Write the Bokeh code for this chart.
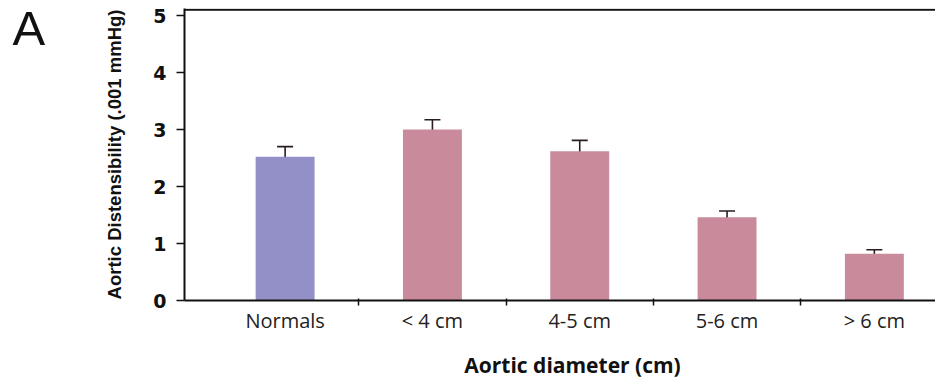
from bokeh.plotting import figure
from bokeh.layouts import row, column
from bokeh.models import (Range1d, FixedTicker, Span, Whisker, TeeHead,
                          ColumnDataSource)
from bokeh.core.properties import value
from bokeh.embed import file_html
from bokeh.resources import INLINE

# ---- data ----
categories = ["Normals", "< 4 cm", "4-5 cm", "5-6 cm", "> 6 cm"]
values = [2.52, 3.0, 2.62, 1.46, 0.82]
errors = [0.18, 0.17, 0.19, 0.11, 0.07]
bar_colors = ["#9290C6", "#C98A9C", "#C98A9C", "#C98A9C", "#C98A9C"]
y_ticks = [0, 1, 2, 3, 4, 5]
y_label = "Aortic Distensibility (.001 mmHg)"
x_label = "Aortic diameter (cm)"
panel_letter = "A"

W, H = 935, 382
LETTER_W = 60
TITLE_H = 40
MAIN_H = H - TITLE_H

xs = list(range(len(categories)))
src = ColumnDataSource(dict(
    x=xs,
    top=values,
    color=bar_colors,
    upper=[v + e for v, e in zip(values, errors)],
    lower=[v - e for v, e in zip(values, errors)],
))


def blank(fig):
    fig.outline_line_color = None
    fig.xgrid.visible = False
    fig.ygrid.visible = False
    fig.border_fill_color = "white"
    fig.background_fill_color = "white"


# ---- panel letter strip (pixel coordinates, y downward) ----
pa = figure(width=LETTER_W, height=MAIN_H, output_backend="svg", toolbar_location=None,
            x_range=Range1d(0, LETTER_W), y_range=Range1d(MAIN_H, 0),
            min_border=0, x_axis_type=None, y_axis_type=None)
blank(pa)
pa.text(x=[12], y=[23], text=[panel_letter], text_font=value("Liberation Sans"),
        text_font_size="49px", text_color="#111111",
        text_baseline="alphabetic", text_align="left")

# ---- main chart ----
p = figure(width=W - LETTER_W, height=MAIN_H, output_backend="svg", toolbar_location=None,
           x_range=Range1d(-0.683, 4.415), y_range=Range1d(0, 5.123),
           min_border_left=184 - LETTER_W, min_border_right=0, min_border_top=8,
           min_border_bottom=MAIN_H - 300)
blank(p)

p.vbar(x="x", top="top", bottom=0, width=0.40, fill_color="color",
       line_color=None, source=src)

err_col = "#2a1c20"
p.add_layout(Whisker(base="x", upper="upper", lower="lower", source=src,
                     line_color=err_col, line_width=1.6,
                     upper_head=TeeHead(size=16, line_color=err_col, line_width=1.6),
                     lower_head=TeeHead(size=16, line_color=err_col, line_width=1.6)))

# top border line
p.add_layout(Span(location=5.10, dimension="width", line_color="#111111",
                  line_width=2))

# y axis
ya = p.yaxis[0]
ya.ticker = FixedTicker(ticks=y_ticks, minor_ticks=[])
ya.axis_line_width = 2
ya.axis_line_color = "#111111"
ya.major_tick_in = 0
ya.major_tick_out = 8
ya.major_tick_line_width = 1.5
ya.major_tick_line_color = "#111111"
ya.minor_tick_line_color = None
ya.major_label_standoff = 10
ya.major_label_text_font = "DejaVu Sans"
ya.major_label_text_font_size = "19px"
ya.major_label_text_font_style = "bold"
ya.major_label_text_color = "#111111"
ya.axis_label = y_label
ya.axis_label_text_font = "Liberation Sans"
ya.axis_label_text_font_size = "18.5px"
ya.axis_label_text_font_style = "bold"
ya.axis_label_text_color = "#111111"
ya.axis_label_standoff = 25

# x axis
xa = p.xaxis[0]
xa.ticker = FixedTicker(ticks=xs, minor_ticks=[i + 0.5 for i in xs[:-1]])
xa.major_label_overrides = {i: c for i, c in zip(xs, categories)}
xa.axis_line_width = 2
xa.axis_line_color = "#111111"
xa.major_tick_in = 0
xa.major_tick_out = 0
xa.minor_tick_in = 2
xa.minor_tick_out = 5
xa.minor_tick_line_width = 1.5
xa.minor_tick_line_color = "#111111"
xa.major_label_standoff = 1
xa.major_label_text_font = "Open Sans"
xa.major_label_text_font_size = "20px"
xa.major_label_text_color = "#222222"

# ---- x-axis title strip (pixel coordinates, y downward) ----
pt = figure(width=W, height=TITLE_H, output_backend="svg", toolbar_location=None,
            x_range=Range1d(0, W), y_range=Range1d(TITLE_H, 0),
            min_border=0, x_axis_type=None, y_axis_type=None)
blank(pt)
pt.text(x=[572], y=[22], text=[x_label], text_font=value("Open Sans"),
        text_font_size="21px", text_font_style="bold", text_color="#111111",
        text_baseline="middle", text_align="center")

layout = column(row(pa, p, spacing=0), pt, spacing=0)
open("out.html", "w").write(file_html(layout, INLINE))
